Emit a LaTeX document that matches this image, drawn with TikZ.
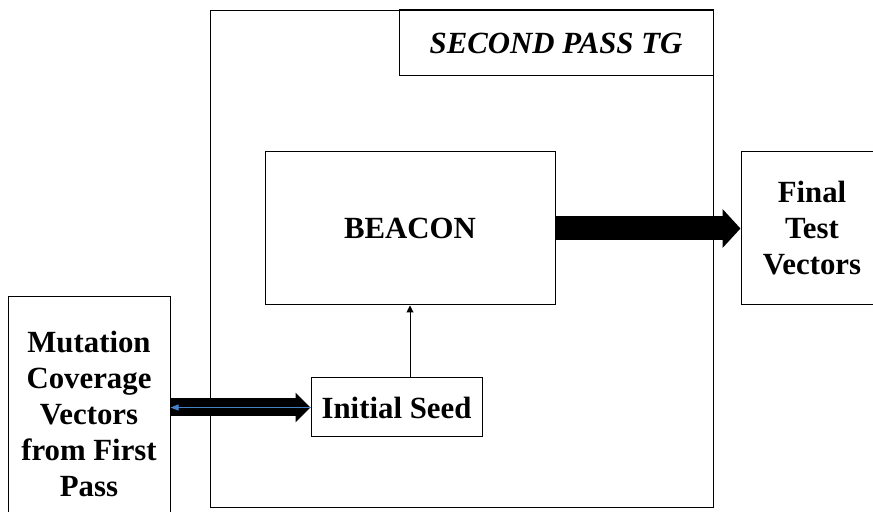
\documentclass[tikz,border=0pt]{standalone}
\usepackage{fontspec}
\setmainfont{Liberation Serif}
\usepackage{tikz}
\usetikzlibrary{arrows.meta,positioning}

\definecolor{seedblue}{RGB}{70,130,200}

\begin{document}
\begin{tikzpicture}[x=0.5pt,y=-0.5pt]
\tikzstyle{blk}=[draw,line width=0.5pt,inner sep=2pt,align=center,font=\fontsize{15.4}{18}\selectfont\bfseries]
\tikzstyle{fat}=[line width=#1]
\useasboundingbox (0,0) rectangle (873,512);

% outer frame and its title
\node[blk,minimum width=251.5pt,minimum height=248.5pt] (tg) at (461.5,259.5) {};
\node[blk,minimum width=157pt,minimum height=33pt,font=\fontsize{15.4}{18}\selectfont\bfseries\itshape] (title) at (556,43) {SECOND PASS TG};

\node[blk,minimum width=145pt,minimum height=76.5pt] (beacon) at (410,228.5) {BEACON};
\node[blk,minimum width=85.5pt,minimum height=29.5pt] (seed) at (396.5,407.5) {Initial Seed};
\node[blk,minimum width=71pt,minimum height=76.5pt] (final) at (812,228.5) {Final\\Test\\Vectors};
\node[blk,minimum width=81pt,minimum height=116.5pt] (mcv) at (89,413.5) {Mutation\\Coverage\\Vectors\\from First\\Pass};

% connectors
\draw[fat=9pt,-{Triangle[width=14.5pt,length=7.5pt]}] (mcv.east |- seed.west) -- (seed.west);
\draw[seedblue,line width=0.5pt,-{Triangle[width=3pt,length=4pt]}] (seed.west) -- (mcv.east |- seed.west);
\draw[fat=12pt,-{Triangle[width=19pt,length=9pt]}] (beacon.east) -- (final.west);
\draw[line width=0.5pt,-{Triangle[width=3.5pt,length=3.5pt]}] (seed.north -| beacon.south) -- (beacon.south);
\end{tikzpicture}
\end{document}
